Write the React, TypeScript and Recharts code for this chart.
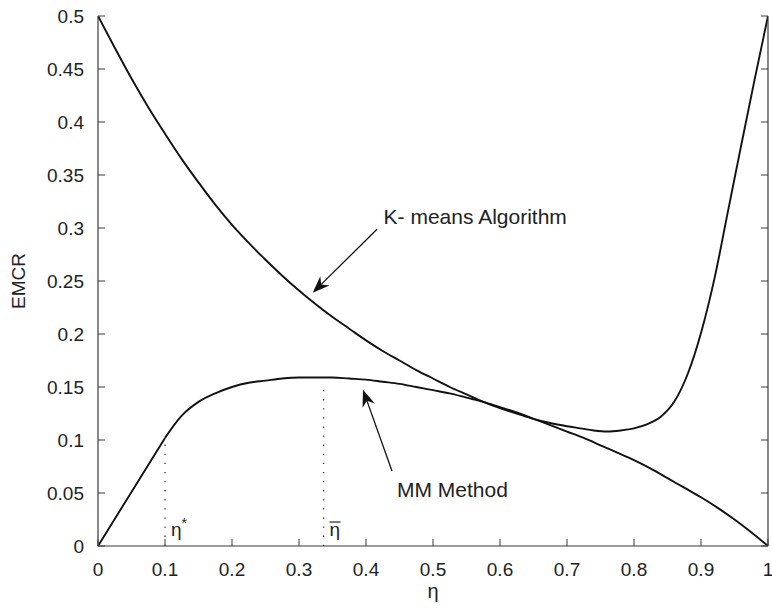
import React from 'react';
import { LineChart, Line, XAxis, YAxis, ReferenceLine, ReferenceDot } from 'recharts';

// K-means algorithm EMCR curve
const kmeansEta = [0, 0.025, 0.05, 0.075, 0.1, 0.125, 0.15, 0.175, 0.2, 0.225, 0.25, 0.275, 0.3, 0.325, 0.35, 0.375, 0.4, 0.425, 0.45, 0.475, 0.5, 0.525, 0.55, 0.575, 0.6, 0.625, 0.65, 0.675, 0.7, 0.72, 0.74, 0.76, 0.78, 0.8, 0.82, 0.84, 0.86, 0.88, 0.9, 0.92, 0.94, 0.96, 0.98, 1];
const kmeansEmcr = [0.5, 0.47, 0.441, 0.414, 0.389, 0.365, 0.343, 0.322, 0.303, 0.286, 0.27, 0.255, 0.241, 0.228, 0.216, 0.205, 0.194, 0.184, 0.175, 0.166, 0.158, 0.15, 0.143, 0.136, 0.13, 0.125, 0.12, 0.116, 0.113, 0.111, 0.109, 0.108, 0.109, 0.111, 0.115, 0.122, 0.136, 0.162, 0.201, 0.252, 0.315, 0.378, 0.44, 0.5];

// MM method EMCR curve: straight part up to eta*, then curved part
const mmLinEta = [0, 0.05, 0.1];
const mmLinEmcr = [0, 0.051, 0.102];
const mmEta = [0.1, 0.125, 0.15, 0.175, 0.2, 0.225, 0.25, 0.275, 0.3, 0.325, 0.35, 0.375, 0.4, 0.425, 0.45, 0.475, 0.5, 0.525, 0.55, 0.575, 0.6, 0.625, 0.65, 0.675, 0.7, 0.725, 0.75, 0.775, 0.8, 0.825, 0.85, 0.875, 0.9, 0.925, 0.95, 0.975, 1];
const mmEmcr = [0.102, 0.123, 0.136, 0.144, 0.15, 0.154, 0.156, 0.158, 0.159, 0.159, 0.159, 0.158, 0.157, 0.155, 0.153, 0.15, 0.147, 0.144, 0.14, 0.136, 0.131, 0.126, 0.12, 0.114, 0.108, 0.102, 0.095, 0.088, 0.081, 0.073, 0.064, 0.055, 0.046, 0.036, 0.025, 0.013, 0];

const xTicks = [0, 0.1, 0.2, 0.3, 0.4, 0.5, 0.6, 0.7, 0.8, 0.9, 1];
const xTickLabels = ['0', '0.1', '0.2', '0.3', '0.4', '0.5', '0.6', '0.7', '0.8', '0.9', '1'];
const yTicks = [0, 0.05, 0.1, 0.15, 0.2, 0.25, 0.3, 0.35, 0.4, 0.45, 0.5];
const yTickLabels = ['0', '0.05', '0.1', '0.15', '0.2', '0.25', '0.3', '0.35', '0.4', '0.45', '0.5'];

// special points (dotted markers)
const etaStar = 0.1;
const etaStarTop = 0.1;
const etaBar = 0.3367;
const etaBarTop = 0.153;

// annotations: arrow tail -> tip, text anchor
const kArrow = { x1: 0.4164, y1: 0.2988, x2: 0.3205, y2: 0.2389 };
const kText = { x: 0.4263, y: 0.3042, text: 'K- means Algorithm' };
const mmArrow = { x1: 0.4388, y1: 0.0708, x2: 0.3955, y2: 0.1475 };
const mmText = { x: 0.4463, y: 0.0462, text: 'MM Method' };

const kData = kmeansEta.map((x, i) => ({ x, y: kmeansEmcr[i] }));
const mmLinData = mmLinEta.map((x, i) => ({ x, y: mmLinEmcr[i] }));
const mmData = mmEta.map((x, i) => ({ x, y: mmEmcr[i] }));

const FONT = '"Liberation Sans", Arial, Helvetica, sans-serif';
const AXIS = '#3a3a3a';
const TXT = '#222';
const TICK_LEN = 7;

const BottomTick = (p: any) => {
  const { x, y, index } = p;
  return (
    <g>
      <line x1={x} y1={y} x2={x} y2={y - TICK_LEN} stroke={AXIS} strokeWidth={1} />
      <text x={x} y={y + 30} textAnchor="middle" fontSize={19} fontFamily={FONT} fill={TXT}>
        {xTickLabels[index]}
      </text>
    </g>
  );
};
const TopTick = (p: any) => {
  const { x, y } = p;
  return <line x1={x} y1={y} x2={x} y2={y + TICK_LEN} stroke={AXIS} strokeWidth={1} />;
};
const LeftTick = (p: any) => {
  const { x, y, index } = p;
  return (
    <g>
      <line x1={x} y1={y} x2={x + TICK_LEN} y2={y} stroke={AXIS} strokeWidth={1} />
      <text x={x - 14} y={y + 7} textAnchor="end" fontSize={19} fontFamily={FONT} fill={TXT}>
        {yTickLabels[index]}
      </text>
    </g>
  );
};
const RightTick = (p: any) => {
  const { x, y } = p;
  return <line x1={x} y1={y} x2={x - TICK_LEN} y2={y} stroke={AXIS} strokeWidth={1} />;
};

const XLabel = (p: any) => {
  const vb = p.viewBox || {};
  return (
    <text x={vb.x + vb.width / 2} y={vb.y + 52} textAnchor="middle" fontSize={20} fontFamily={FONT} fill={TXT}>
      η
    </text>
  );
};
const YLabel = (p: any) => {
  const vb = p.viewBox || {};
  const cx = 25;
  const cy = vb.y + vb.height / 2;
  return (
    <text x={cx} y={cy} transform={`rotate(-90 ${cx} ${cy})`} textAnchor="middle" fontSize={19} fontFamily={FONT} fill={TXT}>
      EMCR
    </text>
  );
};

const arrowShape = (p: any) => {
  const { x1, y1, x2, y2 } = p;
  const dx = x2 - x1;
  const dy = y2 - y1;
  const len = Math.sqrt(dx * dx + dy * dy) || 1;
  const ux = dx / len;
  const uy = dy / len;
  const L = 17;
  const W = 6.5;
  const bx = x2 - ux * L;
  const by = y2 - uy * L;
  const nx = x2 - ux * L * 0.7;
  const ny = y2 - uy * L * 0.7;
  const pts = `${x2},${y2} ${bx - uy * W},${by + ux * W} ${nx},${ny} ${bx + uy * W},${by - ux * W}`;
  return (
    <g>
      <line x1={x1} y1={y1} x2={nx} y2={ny} stroke="#111" strokeWidth={1.3} />
      <polygon points={pts} fill="#111" />
    </g>
  );
};

const dottedShape = (label: string, bar: boolean) => (p: any) => {
  const { x1, y1, x2, y2 } = p;
  const yb = Math.max(y1, y2);
  const yt = Math.min(y1, y2);
  return (
    <g>
      <line x1={x1} y1={yb} x2={x2} y2={yt} stroke="#333" strokeWidth={1.3} strokeDasharray="1.3 7.8" />
      <text x={x1 + 6} y={yb - 10} fontSize={19} fontFamily={FONT} fill={TXT}>
        {label}
        {!bar && (
          <tspan dy={-8} fontSize={14}>
            *
          </tspan>
        )}
      </text>
      {bar && <line x1={x1 + 6} y1={yb - 24} x2={x1 + 17} y2={yb - 24} stroke={TXT} strokeWidth={1.2} />}
    </g>
  );
};

const textShape = (text: string) => (p: any) => (
  <text x={p.cx} y={p.cy} fontSize={21} fontFamily={FONT} fill={TXT}>
    {text}
  </text>
);

export default function App() {
  return (
    <div style={{ position: 'absolute', left: 0, top: 0, background: '#fff' }}>
      <LineChart width={772} height={609} margin={{ top: 16, right: 3, bottom: 0, left: 0 }}>
        <XAxis
          xAxisId="b"
          type="number"
          dataKey="x"
          domain={[0, 1]}
          ticks={xTicks}
          interval={0}
          allowDataOverflow
          height={63}
          tickSize={0}
          tickMargin={0}
          tickLine={false}
          axisLine={{ stroke: AXIS, strokeWidth: 1.2 }}
          tick={<BottomTick />}
          label={<XLabel />}
        />
        <XAxis
          xAxisId="t"
          orientation="top"
          type="number"
          dataKey="x"
          domain={[0, 1]}
          ticks={xTicks}
          interval={0}
          allowDataOverflow
          height={0}
          tickSize={0}
          tickMargin={0}
          tickLine={false}
          axisLine={{ stroke: AXIS, strokeWidth: 1.2 }}
          tick={<TopTick />}
        />
        <YAxis
          yAxisId="l"
          type="number"
          domain={[0, 0.5]}
          ticks={yTicks}
          interval={0}
          allowDataOverflow
          width={98}
          tickSize={0}
          tickMargin={0}
          tickLine={false}
          axisLine={{ stroke: AXIS, strokeWidth: 1.2 }}
          tick={<LeftTick />}
          label={<YLabel />}
        />
        <YAxis
          yAxisId="r"
          orientation="right"
          type="number"
          domain={[0, 0.5]}
          ticks={yTicks}
          interval={0}
          allowDataOverflow
          width={1}
          tickSize={0}
          tickMargin={0}
          tickLine={false}
          axisLine={{ stroke: AXIS, strokeWidth: 1.2 }}
          tick={<RightTick />}
        />
        <Line
          xAxisId="b"
          yAxisId="l"
          data={kData}
          dataKey="y"
          type="monotone"
          stroke="#111"
          strokeWidth={1.9}
          dot={false}
          activeDot={false}
          isAnimationActive={false}
        />
        <Line
          xAxisId="b"
          yAxisId="l"
          data={mmLinData}
          dataKey="y"
          type="linear"
          stroke="#111"
          strokeWidth={1.9}
          dot={false}
          activeDot={false}
          isAnimationActive={false}
        />
        <Line
          xAxisId="b"
          yAxisId="l"
          data={mmData}
          dataKey="y"
          type="monotone"
          stroke="#111"
          strokeWidth={1.9}
          dot={false}
          activeDot={false}
          isAnimationActive={false}
        />
        <ReferenceLine
          xAxisId="b"
          yAxisId="l"
          segment={[{ x: etaStar, y: 0 }, { x: etaStar, y: etaStarTop }]}
          shape={dottedShape('η', false)}
        />
        <ReferenceLine
          xAxisId="b"
          yAxisId="l"
          segment={[{ x: etaBar, y: 0 }, { x: etaBar, y: etaBarTop }]}
          shape={dottedShape('η', true)}
        />
        <ReferenceLine
          xAxisId="b"
          yAxisId="l"
          segment={[{ x: kArrow.x1, y: kArrow.y1 }, { x: kArrow.x2, y: kArrow.y2 }]}
          shape={arrowShape}
        />
        <ReferenceLine
          xAxisId="b"
          yAxisId="l"
          segment={[{ x: mmArrow.x1, y: mmArrow.y1 }, { x: mmArrow.x2, y: mmArrow.y2 }]}
          shape={arrowShape}
        />
        <ReferenceDot xAxisId="b" yAxisId="l" x={kText.x} y={kText.y} r={0} shape={textShape(kText.text)} />
        <ReferenceDot xAxisId="b" yAxisId="l" x={mmText.x} y={mmText.y} r={0} shape={textShape(mmText.text)} />
      </LineChart>
    </div>
  );
}
